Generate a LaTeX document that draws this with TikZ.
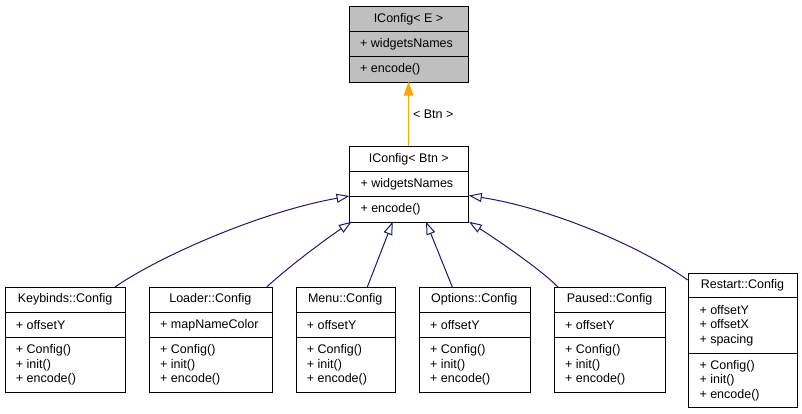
\documentclass[tikz,border=0pt]{standalone}
\usepackage{fontspec}
\setmainfont{Liberation Sans}
\usetikzlibrary{arrows.meta}
\definecolor{edgeblue}{HTML}{191970}
\definecolor{edgeorange}{HTML}{FFA500}
\definecolor{boxgray}{HTML}{BFBFBF}
\begin{document}
\begin{tikzpicture}[x=1pt,y=-1pt,
  cls/.style={draw=black,line width=1pt,fill=white,rectangle,inner sep=0pt,anchor=north west},
  sepline/.style={draw=black,line width=1pt},
  ttl/.style={inner sep=0pt,font=\fontsize{12.5}{14.5}\selectfont},
  mem/.style={inner sep=0pt,anchor=west,align=left,font=\fontsize{12.5}{14.5}\selectfont},
  inh/.style={draw=edgeblue,line width=1pt,-{Triangle[open,length=13pt,width=9pt,line width=1pt]}},
  tmpl/.style={draw=edgeorange,line width=1pt,-{Triangle[length=14pt,width=9.5pt]}},
  lbl/.style={inner sep=0pt,font=\fontsize{12.5}{14.5}\selectfont}
]
\useasboundingbox (0,0) rectangle (802,413);

% IConfig< E >
\node[cls,fill=boxgray,minimum width=119pt,minimum height=75.5pt] (e) at (349,6) {};
\draw[sepline] (349,31.7) -- (468,31.7);
\draw[sepline] (349,56.7) -- (468,56.7);
\node[ttl] (eT) at (408.5,19) {IConfig< E >};
\node[mem] (eA) at (360,44.2) {+ widgetsNames};
\node[mem] (eM) at (360,69.2) {+ encode()};

% IConfig< Btn >
\node[cls,minimum width=119pt,minimum height=75.5pt] (btn) at (349.3,146) {};
\draw[sepline] (349.3,171.7) -- (468.3,171.7);
\draw[sepline] (349.3,196.7) -- (468.3,196.7);
\node[ttl] (btnT) at (408.8,159) {IConfig< Btn >};
\node[mem] (btnA) at (360.3,184.2) {+ widgetsNames};
\node[mem] (btnM) at (360.3,209.2) {+ encode()};

% Keybinds::Config
\node[cls,minimum width=120.6pt,minimum height=105.3pt] (kb) at (4.7,287) {};
\draw[sepline] (4.7,312.3) -- (125.3,312.3);
\draw[sepline] (4.7,337.3) -- (125.3,337.3);
\node[ttl] (kbT) at (65,299.7) {Keybinds::Config};
\node[mem] (kbA) at (15.7,324.8) {+ offsetY};
\node[mem] (kbM) at (15.7,364.8) {+ Config()\\+ init()\\+ encode()};

% Loader::Config
\node[cls,minimum width=122.7pt,minimum height=105.3pt] (ld) at (149,287) {};
\draw[sepline] (149,312.3) -- (271.7,312.3);
\draw[sepline] (149,337.3) -- (271.7,337.3);
\node[ttl] (ldT) at (210.3,299.7) {Loader::Config};
\node[mem] (ldA) at (160,324.8) {+ mapNameColor};
\node[mem] (ldM) at (160,364.8) {+ Config()\\+ init()\\+ encode()};

% Menu::Config
\node[cls,minimum width=99pt,minimum height=105.3pt] (mn) at (295.7,287) {};
\draw[sepline] (295.7,312.3) -- (394.7,312.3);
\draw[sepline] (295.7,337.3) -- (394.7,337.3);
\node[ttl] (mnT) at (345.2,299.7) {Menu::Config};
\node[mem] (mnA) at (306.7,324.8) {+ offsetY};
\node[mem] (mnM) at (306.7,364.8) {+ Config()\\+ init()\\+ encode()};

% Options::Config
\node[cls,minimum width=110.7pt,minimum height=105.3pt] (op) at (419,287) {};
\draw[sepline] (419,312.3) -- (529.7,312.3);
\draw[sepline] (419,337.3) -- (529.7,337.3);
\node[ttl] (opT) at (474.3,299.7) {Options::Config};
\node[mem] (opA) at (430,324.8) {+ offsetY};
\node[mem] (opM) at (430,364.8) {+ Config()\\+ init()\\+ encode()};

% Paused::Config
\node[cls,minimum width=111pt,minimum height=105.3pt] (ps) at (554,287) {};
\draw[sepline] (554,312.3) -- (665,312.3);
\draw[sepline] (554,337.3) -- (665,337.3);
\node[ttl] (psT) at (609.5,299.7) {Paused::Config};
\node[mem] (psA) at (565,324.8) {+ offsetY};
\node[mem] (psM) at (565,364.8) {+ Config()\\+ init()\\+ encode()};

% Restart::Config
\node[cls,minimum width=108.4pt,minimum height=134.6pt] (rs) at (688.3,272.7) {};
\draw[sepline] (688.3,297.7) -- (796.7,297.7);
\draw[sepline] (688.3,353.3) -- (796.7,353.3);
\node[ttl] (rsT) at (742.5,285.2) {Restart::Config};
\node[mem] (rsA) at (699.3,325.5) {+ offsetY\\+ offsetX\\+ spacing};
\node[mem] (rsM) at (699.3,380.3) {+ Config()\\+ init()\\+ encode()};

% connector end points
\coordinate (eB) at (408.5,81.5);
\coordinate (btnTop) at (408.5,146);
\coordinate (btnL) at (349.5,196);
\coordinate (btnR) at (468.8,195.5);
\coordinate (btnBL) at (351.7,221.7);
\coordinate (btnB1) at (392.7,221.7);
\coordinate (btnB2) at (426,221.7);
\coordinate (btnBR) at (469,221.7);
\coordinate (kbTop) at (115,287);
\coordinate (ldTop) at (266.7,287);
\coordinate (mnTop) at (367.3,287);
\coordinate (opTop) at (452.3,287);
\coordinate (psTop) at (558,287);
\coordinate (rsTop) at (687.7,280);

% template instantiation
\draw[tmpl] (btnTop) -- (eB) node[lbl,pos=0.5,right=4pt] (tl) {< Btn >};

% inheritance
\draw[inh] (kbTop) .. controls (160,256) and (260,212) .. (btnL);
\draw[inh] (ldTop) .. controls (285,270) and (320,243) .. (btnBL);
\draw[inh] (mnTop) -- (btnB1);
\draw[inh] (opTop) -- (btnB2);
\draw[inh] (psTop) .. controls (541,270) and (502,243) .. (btnBR);
\draw[inh] (rsTop) .. controls (640,246) and (550,208) .. (btnR);
\end{tikzpicture}
\end{document}
